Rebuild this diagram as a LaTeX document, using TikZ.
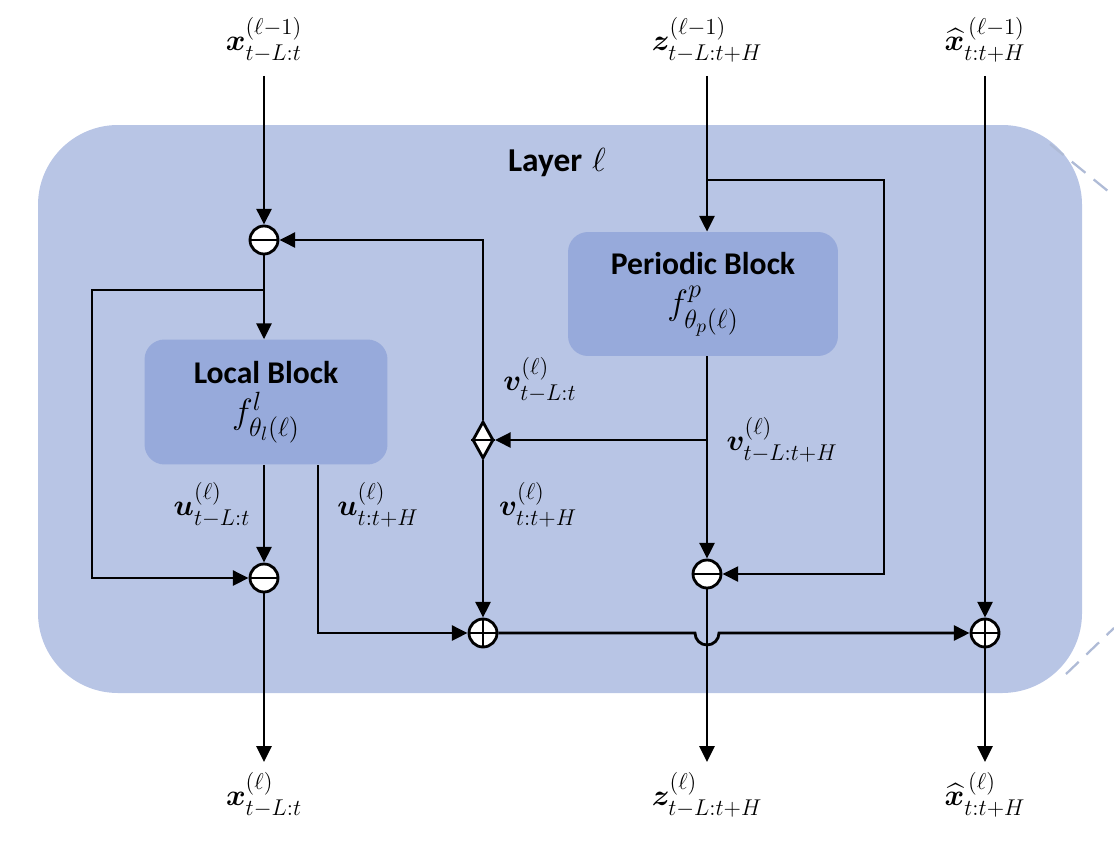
\documentclass[tikz,border=0pt]{standalone}
\usepackage{fix-cm}
\usepackage{amsmath,bm}
\usepackage{fontspec}
\newfontfamily\blockfont{Carlito}
\usetikzlibrary{shapes.geometric,arrows.meta,calc}
\DeclareMathSizes{17}{17}{13}{10}
\DeclareMathSizes{20}{20}{15}{11}
\definecolor{layerbg}{RGB}{184,197,229}
\definecolor{blockbg}{RGB}{151,170,219}
\tikzset{
  arr/.style={line width=1.6pt,-{Triangle[length=9pt,width=8.5pt]}},
  ln/.style={line width=1.6pt},
  opc/.style={circle,draw,line width=1.6pt,fill=white,minimum size=0.56cm,inner sep=0pt},
  opd/.style={diamond,draw,line width=1.6pt,fill=white,minimum width=0.42cm,minimum height=0.74cm,inner sep=0pt},
  block/.style={fill=blockbg,rounded corners=0.4cm,align=center,font=\fontsize{18}{24}\selectfont},
  lbl/.style={font=\fontsize{17}{20}\selectfont,inner sep=1pt}
}
\begin{document}
\begin{tikzpicture}[x=0.02cm,y=-0.02cm]
\useasboundingbox (0,0) rectangle (1114,848);
% layer background
\fill[layerbg,rounded corners=1.6cm] (38,125) rectangle (1082,693);
\draw[layerbg!85!gray,dash pattern=on 10pt off 6pt,line width=1.3pt] (1050,144) -- (1114,196);
\draw[layerbg!85!gray,dash pattern=on 10pt off 6pt,line width=1.3pt] (1066,674) -- (1114,628);
\node[font=\fontsize{19}{22}\selectfont] (layer) at (557,163) {{\blockfont\bfseries Layer} $\ell$};

% blocks
\node[block,minimum width=4.86cm,minimum height=2.5cm] (lb) at (266,402)
  {{\blockfont\bfseries Local Block}\\[-1pt] {\fontsize{20}{22}\selectfont$f^{l}_{\theta_l(\ell)}$}};
\node[block,minimum width=5.4cm,minimum height=2.48cm] (pb) at (703,294)
  {{\blockfont\bfseries Periodic Block}\\[-1pt] {\fontsize{20}{22}\selectfont$f^{p}_{\theta_p(\ell)}$}};

% operators
\node[opc] (m1) at (264,240) {};
\node[opc] (m2) at (264,578) {};
\node[opc] (m3) at (707,574) {};
\node[opc] (p1) at (483,633) {};
\node[opc] (p2) at (985,633) {};
\node[opd] (dm) at (483,440) {};
\draw[ln] (m1.west) -- (m1.east) (m2.west) -- (m2.east) (m3.west) -- (m3.east);
\draw[ln] (p1.west) -- (p1.east) (p1.north) -- (p1.south);
\draw[ln] (p2.west) -- (p2.east) (p2.north) -- (p2.south);
\draw[ln] (dm.west) -- (dm.east);

% inputs / outputs
\node[lbl] (xin) at (264,40) {$\bm{x}^{(\ell-1)}_{t-L:t}$};
\node[lbl] (zin) at (707,40) {$\bm{z}^{(\ell-1)}_{t-L:t+H}$};
\node[lbl] (hin) at (985,40) {$\widehat{\bm{x}}^{\,(\ell-1)}_{t:t+H}$};
\node[lbl] (xout) at (264,795) {$\bm{x}^{(\ell)}_{t-L:t}$};
\node[lbl] (zout) at (707,795) {$\bm{z}^{(\ell)}_{t-L:t+H}$};
\node[lbl] (hout) at (985,795) {$\widehat{\bm{x}}^{\,(\ell)}_{t:t+H}$};

% edge labels
\node[lbl] (lu1) at (212,505) {$\bm{u}^{(\ell)}_{t-L:t}$};
\node[lbl] (lu2) at (378,505) {$\bm{u}^{(\ell)}_{t:t+H}$};
\node[lbl] (lv1) at (540,380) {$\bm{v}^{(\ell)}_{t-L:t}$};
\node[lbl] (lv2) at (538,505) {$\bm{v}^{(\ell)}_{t:t+H}$};
\node[lbl] (lv3) at (782,440) {$\bm{v}^{(\ell)}_{t-L:t+H}$};

% branch points
\coordinate (b1) at (264,290);
\coordinate (b2) at (707,180);
\coordinate (b3) at (707,440);
\coordinate (u2) at (318,465);

% connectors
\draw[arr] (264,76) -- (m1.north);
\draw[arr] (m1.south) -- (lb.north -| m1);
\draw[arr] (b1) -- (92,290) |- (m2.west);
\draw[arr] (lb.south -| m2) -- (m2.north);
\draw[arr] (u2) |- (p1.west);
\draw[arr] (707,76) -- (pb.north -| b2);
\draw[arr] (b2) -- (884,180) |- (m3.east);
\draw[arr] (pb.south -| m3) -- (m3.north);
\draw[arr] (b3) -- (dm.east);
\draw[arr] (dm.north) |- (m1.east);
\draw[arr] (dm.south) -- (p1.north);
\draw[arr] (p1.east) -- (695,633) arc (180:0:12) -- (p2.west);
\draw[arr] (985,76) -- (p2.north);
\draw[arr] (m2.south) -- (264,762);
\draw[arr] (m3.south) -- (707,762);
\draw[arr] (p2.south) -- (985,762);
\end{tikzpicture}
\end{document}
